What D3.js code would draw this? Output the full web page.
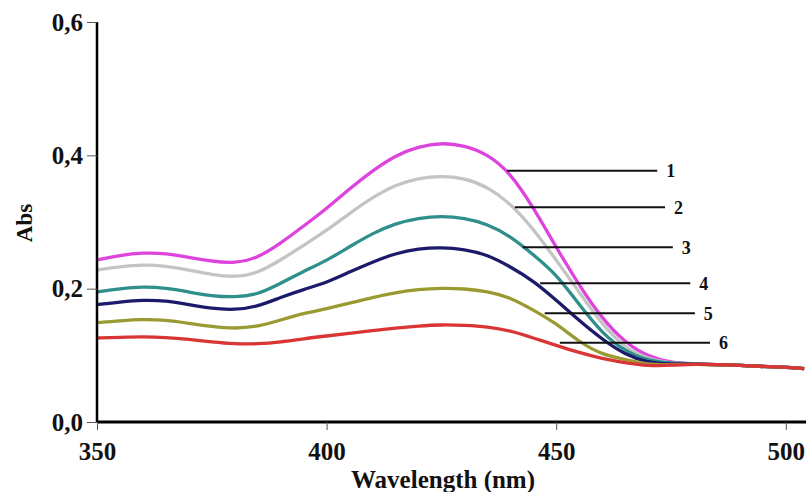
<!DOCTYPE html>
<html>
<head>
<meta charset="utf-8">
<script src="https://cdn.jsdelivr.net/npm/d3@7"></script>
<style>
  body { margin: 0; background: #fff; }
  svg { display: block; }
  text { font-family: "Liberation Serif", "Times New Roman", serif; font-weight: bold; fill: #111; }
</style>
</head>
<body>
<svg class="spectra" width="806" height="492"></svg>
<script>
// wavelength grid (nm)
const wavelengths = [350, 355, 360, 365, 370, 375, 380, 385, 390, 395, 400, 405, 410, 415, 420, 425,
                     430, 435, 440, 445, 450, 455, 460, 465, 470, 475, 480, 490, 500, 504];

// absorbance of each curve
const abs1 = [.243, .250, .254, .253, .247, .241, .238, .246, .268, .294, .320, .350, .377, .400, .413, .419,
              .415, .402, .374, .322, .262, .205, .155, .119, .098, .089, .087, .085, .082, .080];
const abs2 = [.228, .233, .236, .234, .228, .221, .217, .223, .243, .265, .287, .313, .337, .356, .366, .369,
              .366, .353, .328, .290, .243, .195, .146, .111, .094, .088, .087, .085, .082, .080];
const abs3 = [.195, .200, .203, .201, .195, .189, .187, .191, .208, .226, .242, .263, .283, .298, .306, .309,
              .306, .297, .279, .251, .222, .176, .133, .106, .092, .088, .087, .085, .082, .080];
const abs4 = [.176, .180, .183, .182, .176, .170, .168, .173, .187, .199, .209, .225, .240, .253, .260, .262,
              .259, .251, .233, .212, .183, .152, .124, .101, .089, .087, .087, .085, .082, .080];
const abs5 = [.149, .152, .154, .153, .148, .143, .140, .143, .153, .163, .170, .178, .187, .194, .199, .201,
              .200, .196, .187, .168, .148, .120, .101, .094, .086, .086, .087, .085, .082, .080];
const abs6 = [.126, .127, .128, .127, .124, .120, .117, .117, .120, .125, .129, .133, .137, .141, .144, .146,
              .145, .143, .137, .126, .115, .104, .095, .089, .084, .085, .087, .085, .082, .080];

const seriesNames = ["1", "2", "3", "4", "5", "6"];
const seriesValues = [abs1, abs2, abs3, abs4, abs5, abs6];
const seriesColors = ["#dd44dd", "#c4c4c4", "#2e8f8c", "#1c1a6a", "#9a9a32", "#d93535"];

// leader lines: where they leave the curve (nm, abs)
const labelStartNm = [439.3, 441.0, 442.7, 446.5, 447.5, 450.8];
const labelAbs = [0.377, 0.322, 0.262, 0.208, 0.163, 0.119];
const labelLenNm = 32.7;

const xTicks = [350, 400, 450, 500];
const yTicks = [0, 0.2, 0.4, 0.6];

const svg = d3.select('svg.spectra');
const mLeft = 97, mRight = 806, mTop = 22, mBottom = 422;

const x = d3.scaleLinear().domain([350, 504.4]).range([mLeft, mRight]);
const y = d3.scaleLinear().domain([0, 0.6]).range([mBottom, mTop]);

const fmt = d => d3.format(".1f")(d).replace(".", ",");

// curves
const line = d3.line()
  .x(d => x(d[0]))
  .y(d => y(d[1]))
  .curve(d3.curveBasis);

svg.append('g')
  .selectAll('path')
  .data(seriesValues)
  .enter()
  .append('path')
  .attr('d', vals => line(wavelengths.map((w, i) => [w, vals[i]])))
  .attr('fill', 'none')
  .attr('stroke', (d, i) => seriesColors[i])
  .attr('stroke-width', 3.3)
  .attr('stroke-linejoin', 'round');

// y axis
const yAxis = svg.append('g')
  .attr('transform', `translate(${mLeft},0)`)
  .call(d3.axisLeft(y).tickValues(yTicks).tickFormat(fmt).tickSize(10).tickPadding(4));
yAxis.select('.domain').attr('stroke', '#000').attr('stroke-width', 2.5).attr('d', `M0,${mTop}V${mBottom}`);
yAxis.selectAll('.tick line').attr('stroke', '#555').attr('stroke-width', 1);
yAxis.selectAll('.tick text')
  .style('font-family', '"Liberation Serif", serif')
  .style('font-weight', 'bold')
  .style('font-size', '25px')
  .attr('fill', '#111');

// x axis
const xAxis = svg.append('g')
  .attr('transform', `translate(0,${mBottom})`)
  .call(d3.axisBottom(x).tickValues(xTicks).tickFormat(d3.format("d")).tickSize(8).tickPadding(12));
xAxis.select('.domain').attr('stroke', '#000').attr('stroke-width', 3).attr('d', `M${mLeft},0H${mRight}`);
xAxis.selectAll('.tick line').attr('stroke', '#555').attr('stroke-width', 1);
xAxis.selectAll('.tick text')
  .style('font-family', '"Liberation Serif", serif')
  .style('font-weight', 'bold')
  .style('font-size', '25px')
  .attr('fill', '#111');

// axis titles
svg.append('text')
  .attr('x', 443)
  .attr('y', 488)
  .attr('text-anchor', 'middle')
  .style('font-size', '25px')
  .text('Wavelength (nm)');

svg.append('text')
  .attr('transform', 'translate(32,223) rotate(-90)')
  .attr('text-anchor', 'middle')
  .style('font-size', '23px')
  .text('Abs');

// leader lines + numbers
const lab = svg.append('g');
lab.selectAll('line')
  .data(seriesNames)
  .enter()
  .append('line')
  .attr('x1', (d, i) => x(labelStartNm[i]))
  .attr('x2', (d, i) => x(labelStartNm[i] + labelLenNm))
  .attr('y1', (d, i) => y(labelAbs[i]))
  .attr('y2', (d, i) => y(labelAbs[i]))
  .attr('stroke', '#111')
  .attr('stroke-width', 2);

lab.selectAll('text')
  .data(seriesNames)
  .enter()
  .append('text')
  .attr('x', (d, i) => x(labelStartNm[i] + labelLenNm) + 9)
  .attr('y', (d, i) => y(labelAbs[i]))
  .attr('dy', '0.35em')
  .style('font-size', '18px')
  .text(d => d);
</script>
</body>
</html>
